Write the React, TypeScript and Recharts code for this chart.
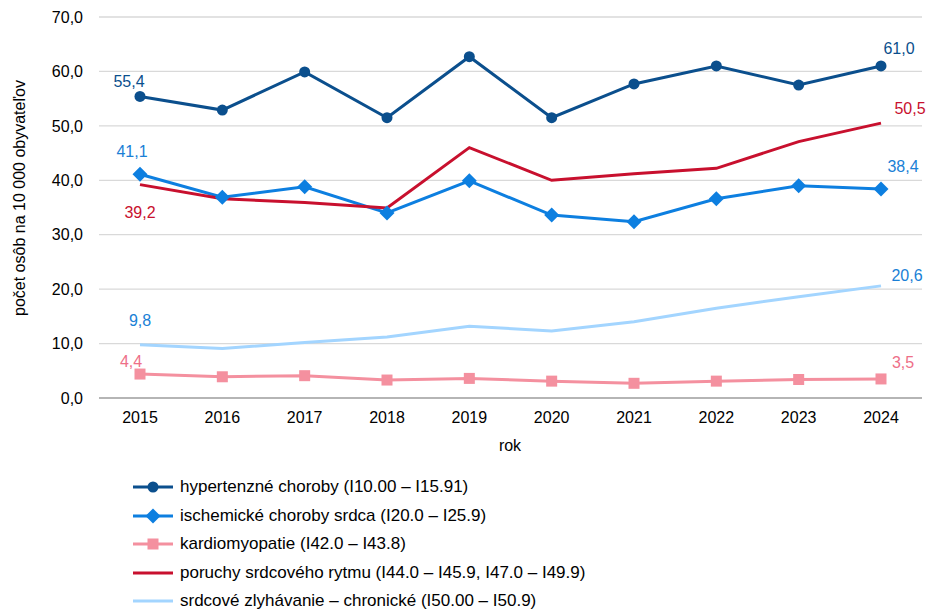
import { LineChart, Line, XAxis, YAxis, CartesianGrid, Legend, LabelList } from 'recharts';

const years = ['2015', '2016', '2017', '2018', '2019', '2020', '2021', '2022', '2023', '2024'];
const hypertension = [55.4, 52.9, 59.9, 51.5, 62.7, 51.5, 57.7, 61.0, 57.5, 61.0];
const ischemic = [41.1, 36.9, 38.8, 34.0, 39.9, 33.6, 32.4, 36.6, 39.0, 38.4];
const cardiomyopathy = [4.4, 3.9, 4.1, 3.3, 3.6, 3.1, 2.7, 3.1, 3.4, 3.5];
const rhythm = [39.2, 36.6, 35.9, 34.9, 46.0, 40.0, 41.2, 42.2, 47.1, 50.5];
const heartFailure = [9.8, 9.1, 10.2, 11.2, 13.2, 12.3, 14.0, 16.5, 18.6, 20.6];
const yTicks = [0, 10, 20, 30, 40, 50, 60, 70];

const data = years.map((year, i) => ({
    year,
    hyp: hypertension[i],
    isch: ischemic[i],
    kard: cardiomyopathy[i],
    ryt: rhythm[i],
    hf: heartFailure[i],
}));

const FONT = '"Liberation Sans", Arial, sans-serif';
const fmt = (v: number) => v.toFixed(1).replace('.', ',');

const SERIES = [
    { key: 'hyp', name: 'hypertenzné choroby (I10.00 – I15.91)', color: '#0B4F8D', label: '#0B4F8D', marker: 'circle', first: [-11, -15], last: [18, -17] },
    { key: 'isch', name: 'ischemické choroby srdca (I20.0 – I25.9)', color: '#0D7FE0', label: '#1A7FD6', marker: 'diamond', first: [-8, -23], last: [22, -22] },
    { key: 'kard', name: 'kardiomyopatie (I42.0 – I43.8)', color: '#F4909F', label: '#EE6F88', marker: 'square', first: [-9, -13], last: [22, -16] },
    { key: 'ryt', name: 'poruchy srdcového rytmu (I44.0 – I45.9, I47.0 – I49.9)', color: '#C8102E', label: '#C8102E', marker: 'none', first: [0, 28], last: [29, -15] },
    { key: 'hf', name: 'srdcové zlyhávanie – chronické (I50.00 – I50.9)', color: '#A3D5FF', label: '#1A7FD6', marker: 'none', first: [0, -24], last: [26, -10] },
];

const drawMarker = (marker: string, color: string, cx: number, cy: number, key?: any) => {
    if (marker === 'circle') return <circle key={key} cx={cx} cy={cy} r={5.5} fill={color} />;
    if (marker === 'diamond')
        return <path key={key} d={`M${cx},${cy - 7.5}L${cx + 7.5},${cy}L${cx},${cy + 7.5}L${cx - 7.5},${cy}Z`} fill={color} />;
    if (marker === 'square') return <rect key={key} x={cx - 5.5} y={cy - 5.5} width={11} height={11} fill={color} />;
    return <g key={key} />;
};

const makeDot = (marker: string, color: string) => (props: any) => {
    const { cx, cy, index } = props;
    if (cx == null || cy == null) return <g key={index} />;
    return drawMarker(marker, color, cx, cy, index);
};

const makeLabel = (s: any) => (props: any) => {
    const { x, y, value, index } = props;
    if (index !== 0 && index !== years.length - 1) return null;
    const [dx, dy] = index === 0 ? s.first : s.last;
    return (
        <text x={x + dx} y={y + dy} fill={s.label} fontSize={16} fontFamily={FONT} textAnchor="middle" dominantBaseline="central">
            {fmt(Number(value))}
        </text>
    );
};

const renderLegend = () => (
    <div style={{ height: 150, paddingLeft: 133, paddingTop: 14, boxSizing: 'border-box', fontFamily: FONT, fontSize: 17, color: '#000' }}>
        {SERIES.map((s) => (
            <div key={s.key} style={{ height: 28.5, display: 'flex', alignItems: 'center' }}>
                <svg width={40} height={16} style={{ marginRight: 7 }}>
                    <line x1={0} y1={8} x2={40} y2={8} stroke={s.color} strokeWidth={3} />
                    {drawMarker(s.marker, s.color, 20, 8)}
                </svg>
                <span style={{ whiteSpace: 'nowrap' }}>{s.name}</span>
            </div>
        ))}
    </div>
);

export default function App() {
    return (
        <div style={{ position: 'absolute', left: 0, top: 0, width: 929, height: 609, background: '#fff' }}>
            <LineChart width={929} height={609} data={data} margin={{ top: 17, right: 7, left: 0, bottom: 0 }}>
                <CartesianGrid vertical={false} stroke="#D9D9D9" strokeWidth={1.3} />
                <XAxis
                    dataKey="year"
                    height={61}
                    padding={{ left: 41, right: 41 }}
                    tickLine={false}
                    tickSize={0}
                    tickMargin={14}
                    stroke="#A6A6A6"
                    strokeWidth={1.3}
                    tick={{ fill: '#000', fontSize: 16, fontFamily: FONT }}
                    label={{
                        content: () => (
                            <text x={510} y={445} textAnchor="middle" dominantBaseline="central" fontSize={16} fontFamily={FONT} fill="#000">
                                rok
                            </text>
                        ),
                    }}
                />
                <YAxis
                    width={99}
                    domain={[0, 70]}
                    ticks={yTicks}
                    axisLine={false}
                    tickLine={false}
                    tickSize={0}
                    tickMargin={16}
                    tickFormatter={fmt}
                    tick={{ fill: '#000', fontSize: 16, fontFamily: FONT }}
                    label={{
                        content: () => (
                            <text
                                x={19}
                                y={198}
                                transform="rotate(-90 19 198)"
                                textAnchor="middle"
                                dominantBaseline="central"
                                fontSize={16}
                                fontFamily={FONT}
                                fill="#000"
                            >
                                počet osôb na 10 000 obyvateľov
                            </text>
                        ),
                    }}
                />
                <Legend verticalAlign="bottom" content={renderLegend} wrapperStyle={{ left: 0, width: 929 }} />
                {SERIES.map((s) => (
                    <Line
                        key={s.key}
                        dataKey={s.key}
                        name={s.name}
                        stroke={s.color}
                        strokeWidth={3}
                        dot={s.marker === 'none' ? false : makeDot(s.marker, s.color)}
                        activeDot={false}
                        isAnimationActive={false}
                    >
                        <LabelList dataKey={s.key} content={makeLabel(s)} />
                    </Line>
                ))}
            </LineChart>
        </div>
    );
}
